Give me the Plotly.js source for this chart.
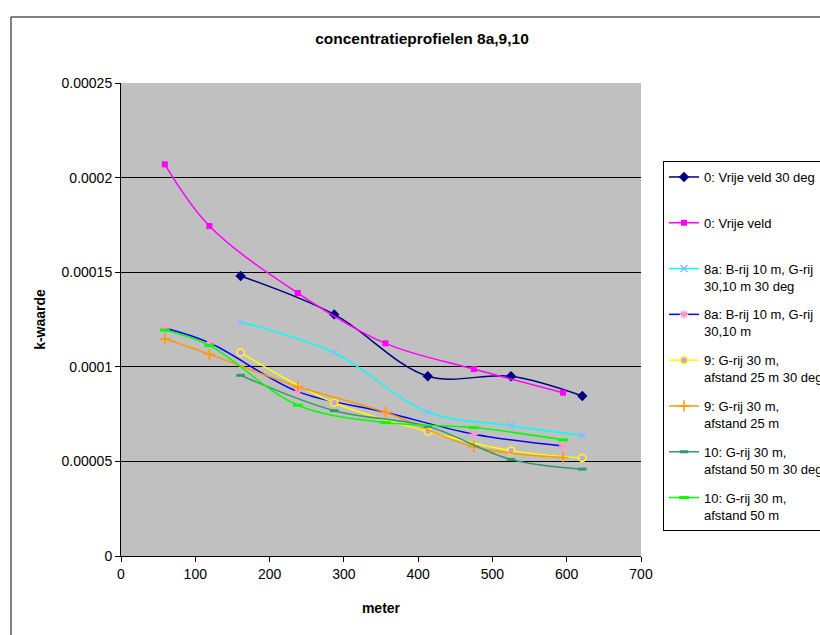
<!DOCTYPE html>
<html>
<head>
<meta charset="utf-8">
<script src="https://cdn.plot.ly/plotly-3.0.1.min.js"></script>
<style>html,body{margin:0;padding:0;background:#fff;}#chart{width:820px;height:635px;}</style>
</head>
<body>
<div id="chart"></div>
<script>
// ---- data ----
var distA = [59, 119, 238, 356, 475, 595];
var distB = [161, 287, 413, 525, 621];

var vrijeVeld30 = [0.000148, 0.0001277, 0.000095, 0.000095, 0.0000846];
var vrijeVeld = [0.000207, 0.0001744, 0.000139, 0.0001124, 0.0000988, 0.0000863];
var r8a30 = [0.0001237, 0.0001074, 0.0000761, 0.0000689, 0.0000638];
var r8a = [0.0001205, 0.0001127, 0.0000869, 0.000076, 0.0000644, 0.0000582];
var r9_30 = [0.0001075, 0.000081, 0.0000658, 0.0000557, 0.0000518];
var r9 = [0.0001148, 0.0001066, 0.0000895, 0.000076, 0.0000577, 0.000052];
var r10_30 = [0.0000955, 0.0000768, 0.0000685, 0.000051, 0.0000459];
var r10 = [0.0001194, 0.0001113, 0.0000797, 0.0000705, 0.0000679, 0.0000614];

var seriesNames = [
  "0: Vrije veld 30 deg<br> ",
  "0: Vrije veld<br> ",
  "8a: B-rij 10 m, G-rij<br>30,10 m 30 deg",
  "8a: B-rij 10 m, G-rij<br>30,10 m",
  "9: G-rij 30 m,<br>afstand 25 m 30 deg",
  "9: G-rij 30 m,<br>afstand 25 m",
  "10: G-rij 30 m,<br>afstand 50 m 30 deg",
  "10: G-rij 30 m,<br>afstand 50 m"
];

var xTickVals = [0, 100, 200, 300, 400, 500, 600, 700];
var yTickVals = [0, 0.00005, 0.0001, 0.00015, 0.0002, 0.00025];
var yTickText = ["0", "0.00005", "0.0001", "0.00015", "0.0002", "0.00025"];

var chartTitle = "concentratieprofielen 8a,9,10";
var xTitle = "meter";
var yTitle = "k-waarde";

// ---- traces ----
function tr(x, y, i, lineColor, marker) {
  return {
    x: x, y: y, name: seriesNames[i], type: 'scatter', mode: 'lines+markers',
    legendgroup: 'g' + i,
    line: {color: lineColor, width: 1.5, shape: 'spline', smoothing: 1},
    marker: marker, cliponaxis: false
  };
}

var data = [
  tr(distB, vrijeVeld30, 0, '#000080', {symbol: 'diamond', size: 8, color: '#000080'}),
  tr(distA, vrijeVeld, 1, '#FF00FF', {symbol: 'square', size: 6, color: '#FF00FF'}),
  tr(distB, r8a30, 2, '#00FFFF', {symbol: 'x-thin-open', size: 7, color: '#8FB8FF', line: {color: '#8FB8FF', width: 1.5}}),
  tr(distA, r8a, 3, '#0000FF', {symbol: 'asterisk-open', size: 7, color: '#FF99CC', line: {color: '#FF99CC', width: 1.5}}),
  tr(distB, r9_30, 4, '#FFFF00', {symbol: 'circle', size: 7, color: '#CC99FF', line: {color: '#FFFF00', width: 1.5}}),
  tr(distA, r9, 5, '#FF9900', {symbol: 'cross-thin-open', size: 8, color: '#FF9900', line: {color: '#FF9900', width: 1.5}}),
  tr(distB, r10_30, 6, '#339966', {symbol: 'line-ew-open', size: 6, color: '#339966', line: {color: '#339966', width: 3}}),
  tr(distA, r10, 7, '#00FF00', {symbol: 'line-ew-open', size: 7, color: '#00FF00', line: {color: '#00FF00', width: 3}})
];

var font = 'Liberation Sans, Arial, sans-serif';

var layout = {
  width: 820, height: 635,
  paper_bgcolor: '#FFFFFF', plot_bgcolor: '#C0C0C0',
  margin: {l: 121, r: 179, t: 83, b: 79, pad: 0, autoexpand: false},
  font: {family: font, size: 14, color: '#000'},
  title: {text: chartTitle, font: {family: font, size: 15.5, weight: 'bold', color: '#000'},
          x: 0.5146, xanchor: 'center', y: 0.9386, yanchor: 'middle', xref: 'container', yref: 'container'},
  xaxis: {
    range: [0, 700], tickvals: xTickVals, ticks: 'outside', ticklen: 5, tickcolor: '#000',
    showline: true, linecolor: '#000', linewidth: 1, showgrid: false, zeroline: false,
    tickfont: {size: 14}, fixedrange: true,
    title: {text: xTitle, font: {size: 14, weight: 'bold'}, standoff: 22}
  },
  yaxis: {
    range: [0, 0.00025], tickvals: yTickVals, ticktext: yTickText, ticks: 'outside', ticklen: 5, tickcolor: '#000',
    showline: true, linecolor: '#000', linewidth: 1, showgrid: true, gridcolor: '#000', gridwidth: 1,
    zeroline: false, tickfont: {size: 14}, fixedrange: true,
    title: {text: yTitle, font: {size: 14, weight: 'bold'}, standoff: 12}
  },
  showlegend: true,
  legend: {
    x: 1.0423, xanchor: 'left', y: (556 - 161) / 473, yanchor: 'top', xref: 'paper', yref: 'paper',
    bgcolor: '#FFFFFF', bordercolor: '#000', borderwidth: 1,
    font: {family: font, size: 13, color: '#000'},
    tracegroupgap: 9, itemwidth: 30, valign: 'top', traceorder: 'grouped'
  },
  shapes: [{
    type: 'rect', xref: 'paper', yref: 'paper',
    x0: (11 - 121) / 520, x1: (830 - 121) / 520,
    y0: (556 - 645) / 473, y1: (556 - 17) / 473,
    line: {color: '#000', width: 1}, fillcolor: 'rgba(0,0,0,0)', layer: 'below'
  }]
};

Plotly.newPlot('chart', data, layout, {displayModeBar: false, staticPlot: true});
</script>
</body>
</html>
